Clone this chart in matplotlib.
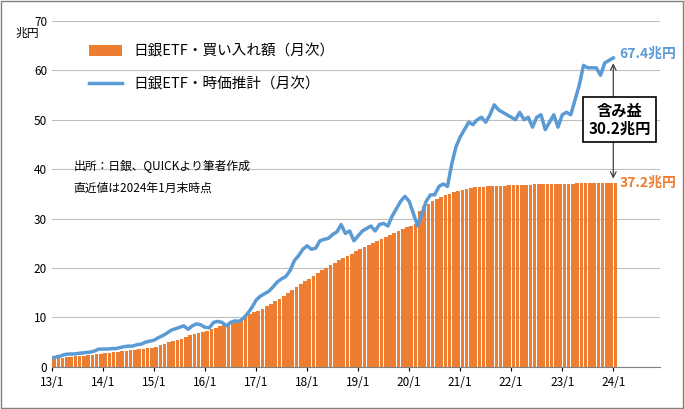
import matplotlib
matplotlib.use("Agg")
import matplotlib.pyplot as plt
import numpy as np
from matplotlib.patches import Rectangle

plt.rcParams["font.family"] = "Noto Sans CJK JP"

purchases = [1.6,1.7,1.8,1.9,2.0,2.1,2.2,2.3,2.4,2.5,2.6,2.7,
 2.8,2.9,3.0,3.1,3.2,3.3,3.4,3.5,3.6,3.7,3.8,3.9,
 4.1,4.4,4.7,5.0,5.2,5.4,5.7,6.0,6.4,6.6,6.8,7.0,
 7.3,7.6,7.9,8.2,8.4,8.6,8.8,9.2,9.7,10.2,10.7,11.1,
 11.4,11.8,12.3,12.8,13.3,13.8,14.3,14.9,15.5,16.1,16.7,17.3,
 17.8,18.4,19.0,19.6,20.1,20.6,21.1,21.6,22.0,22.4,22.9,23.4,
 23.8,24.2,24.6,25.0,25.4,25.8,26.2,26.6,27.0,27.4,27.8,28.2,
 28.5,28.9,31.5,32.5,33.0,33.5,34.0,34.4,34.7,35.0,35.3,35.6,
 35.8,36.0,36.2,36.3,36.3,36.4,36.5,36.5,36.6,36.6,36.6,36.7,
 36.7,36.7,36.8,36.8,36.8,36.9,36.9,36.9,36.9,37.0,37.0,37.0,
 37.0,37.0,37.0,37.1,37.1,37.1,37.1,37.1,37.2,37.2,37.2,37.2,
 37.2]
market = [1.8,2.0,2.2,2.5,2.6,2.6,2.7,2.8,2.9,3.0,3.2,3.6,
 3.6,3.6,3.7,3.7,3.9,4.1,4.2,4.2,4.5,4.6,5.0,5.2,
 5.4,5.9,6.3,6.8,7.4,7.7,8.0,8.3,7.6,8.3,8.7,8.5,
 8.0,7.9,9.0,9.2,9.0,8.3,9.0,9.3,9.2,9.8,10.8,12.0,
 13.5,14.3,14.8,15.3,16.2,17.2,17.8,18.3,19.5,21.5,22.5,23.8,
 24.5,23.8,24.0,25.5,25.8,26.0,26.8,27.3,28.8,27.0,27.5,25.5,
 26.5,27.5,28.0,28.5,27.5,28.8,29.0,28.5,30.5,32.0,33.5,34.5,
 33.5,31.0,28.5,31.0,33.5,34.8,34.8,36.5,37.0,36.5,41.0,44.5,
 46.5,48.0,49.5,49.0,50.0,50.5,49.5,51.0,53.0,52.0,51.5,51.0,
 50.5,50.0,51.5,50.0,50.5,48.5,50.5,51.0,48.0,49.5,51.0,48.5,
 51.0,51.5,51.0,54.0,57.0,61.0,60.5,60.5,60.5,59.0,61.5,62.0,
 62.5]
tick_labels = ["13/1","14/1","15/1","16/1","17/1","18/1","19/1","20/1","21/1","22/1","23/1","24/1"]

x = np.arange(len(purchases))
fig = plt.figure(figsize=(6.84, 4.09), dpi=100)
ax = fig.add_axes([0.076, 0.103, 0.889, 0.846])
b = ax.bar(x + 0.5, purchases, width=0.85, color="#ED7D31", label="日銀ETF・買い入れ額（月次）", zorder=2)
l, = ax.plot(x, market, color="#5B9BD5", lw=2.5, label="日銀ETF・時価推計（月次）", zorder=3)
ax.set_xlim(0, 143)
ax.set_ylim(0, 70)
ax.set_yticks(range(0, 71, 10))
ax.set_xticks(np.arange(0, 133, 12))
ax.set_xticklabels(tick_labels)
ax.tick_params(labelsize=8.5, length=3)
ax.tick_params(axis="y", length=0)
ax.grid(axis="y", color="#BFBFBF", lw=0.8, zorder=0)
for s in ["top", "right", "left"]:
    ax.spines[s].set_visible(False)
ax.spines["bottom"].set_color("#808080")
ax.text(-0.06, 0.955, "兆円", transform=ax.transAxes, fontsize=8.5, ha="left")
ax.legend(handles=[b, l], loc="upper left", bbox_to_anchor=(0.04, 0.97), frameon=False, fontsize=10.5,
          handlelength=2.2, labelspacing=1.3)
ax.text(0.035, 0.60, "出所：日銀、QUICKより筆者作成\n直近値は2024年1月末時点", transform=ax.transAxes,
        fontsize=8.5, va="top", linespacing=1.9)
ax.text(133.5, market[-1] + 0.8, "67.4兆円", color="#5B9BD5", fontsize=10, fontweight="bold", va="center")
ax.text(133.5, purchases[-1], "37.2兆円", color="#ED7D31", fontsize=10, fontweight="bold", va="center")
ax.annotate("", xy=(132, market[-1] - 0.5), xytext=(132, purchases[-1] + 0.3),
            arrowprops=dict(arrowstyle="<->", color="#404040", lw=0.9))
ax.text(133.5, 50, "含み益\n30.2兆円", fontsize=11, fontweight="bold", ha="center", va="center",
        bbox=dict(boxstyle="square,pad=0.35", fc="white", ec="black", lw=1.2), zorder=5)
fig.patches.append(Rectangle((0.002, 0.003), 0.996, 0.994, transform=fig.transFigure,
                             fill=False, ec="#808080", lw=1))
fig.savefig("out.png", dpi=100)
